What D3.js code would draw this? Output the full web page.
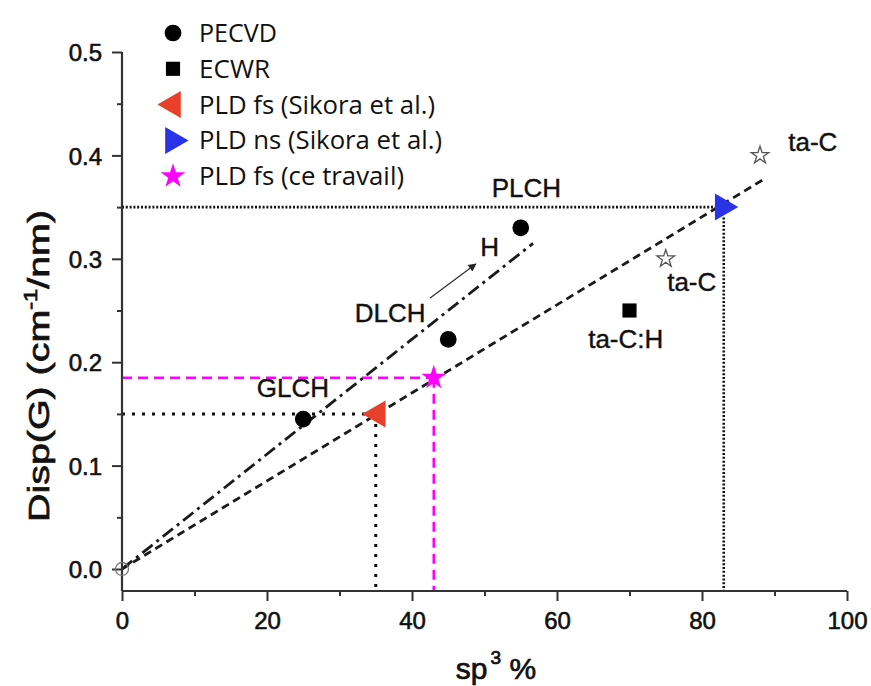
<!DOCTYPE html>
<html>
<head>
<meta charset="utf-8">
<script src="https://cdn.jsdelivr.net/npm/d3@7"></script>
<style>
  html, body { margin: 0; padding: 0; background: #fff; }
  svg { display: block; }
</style>
</head>
<body>
<svg id="chart" width="871" height="686"></svg>
<script>
// ---------- data ----------
const xTicks = [0, 20, 40, 60, 80, 100];
const yTicks = [0.0, 0.1, 0.2, 0.3, 0.4, 0.5];
const xMinorTicks = [10, 30, 50, 70, 90];
const yMinorTicks = [0.05, 0.15, 0.25, 0.35, 0.45];

const pecvdX = [25, 45, 55];
const pecvdY = [0.145, 0.222, 0.330];
const ecwrX = [70];
const ecwrY = [0.25];
const pldFsSikoraX = [35];
const pldFsSikoraY = [0.15];
const pldNsSikoraX = [83];
const pldNsSikoraY = [0.35];
const pldFsThisX = [43];
const pldFsThisY = [0.185];
const taCX = [75, 88];
const taCY = [0.30, 0.40];
const originX = [0];
const originY = [0];

const fitDashedX = [0, 88.3];
const fitDashedY = [0, 0.376];
const fitDashDotX = [0, 56.7];
const fitDashDotY = [0, 0.315];
const arrowX = [42.5, 48.8];
const arrowY = [0.262, 0.295];

const legendLabels = ["PECVD", "ECWR", "PLD fs (Sikora et al.)", "PLD ns (Sikora et al.)", "PLD fs (ce travail)"];
const legendWidths = [78, 71, 236, 243, 205];
const annotTexts = ["PLCH", "DLCH", "H", "GLCH", "ta-C:H", "ta-C", "ta-C"];
const annotX = [51.0, 32.1, 49.4, 18.6, 64.3, 75.2, 91.9];
const annotY = [0.360, 0.239, 0.303, 0.166, 0.214, 0.269, 0.404];

// ---------- layout ----------
const svg = d3.select("#chart");
const x = d3.scaleLinear().domain([0, 100]).range([122, 847]);
const y = d3.scaleLinear().domain([0, 0.5]).range([569, 52]);
const yBottom = -0.0213;
const axisY = y(yBottom);

const FONT = "'Liberation Sans', Arial, sans-serif";
const LFONT = "'Open Sans', 'Noto Sans', sans-serif";
const RED = "#e8402b", BLUE = "#2b33e6", MAG = "#ff00ff";
const TXT = "#111";

// ---------- guide lines ----------
const g = svg.append("g");
function seg(x1, y1, x2, y2, color, w, dash) {
  g.append("line")
    .attr("x1", x(x1)).attr("y1", y(y1)).attr("x2", x(x2)).attr("y2", y(y2))
    .attr("stroke", color).attr("stroke-width", w)
    .attr("stroke-dasharray", dash);
}
// dense dotted lines at PLD ns point
seg(0, pldNsSikoraY[0], pldNsSikoraX[0] - 1, pldNsSikoraY[0], "#111", 2.6, "2,1.8");
seg(pldNsSikoraX[0], pldNsSikoraY[0] - 0.01, pldNsSikoraX[0], yBottom, "#111", 2.6, "2,1.8");
// sparse dotted lines at PLD fs Sikora point
seg(0, pldFsSikoraY[0], pldFsSikoraX[0], pldFsSikoraY[0], "#111", 3, "3,7");
seg(pldFsSikoraX[0], pldFsSikoraY[0], pldFsSikoraX[0], yBottom, "#111", 3, "3,7");
// magenta dashed at this work
seg(0, pldFsThisY[0], pldFsThisX[0], pldFsThisY[0], MAG, 2.5, "10,6");
seg(pldFsThisX[0], pldFsThisY[0], pldFsThisX[0], yBottom, MAG, 2.5, "10,6");
// fit lines
seg(fitDashedX[0], fitDashedY[0], fitDashedX[1], fitDashedY[1], "#1a1a1a", 2.8, "8,5");
seg(fitDashDotX[0], fitDashDotY[0], fitDashDotX[1], fitDashDotY[1], "#1a1a1a", 2.8, "13,5,3,5");

// arrow
svg.append("defs").append("marker")
  .attr("id", "arr").attr("viewBox", "0 0 10 10").attr("refX", 9).attr("refY", 5)
  .attr("markerWidth", 10).attr("markerHeight", 8).attr("markerUnits", "userSpaceOnUse")
  .attr("orient", "auto")
  .append("path").attr("d", "M0,0 L10,5 L0,10 z").attr("fill", "#222");
g.append("line")
  .attr("x1", x(arrowX[0])).attr("y1", y(arrowY[0]))
  .attr("x2", x(arrowX[1])).attr("y2", y(arrowY[1]))
  .attr("stroke", "#333").attr("stroke-width", 1.3)
  .attr("marker-end", "url(#arr)");

// ---------- axes ----------
const ax = svg.append("g");
ax.append("line").attr("x1", x(0)).attr("x2", x(100)).attr("y1", axisY).attr("y2", axisY)
  .attr("stroke", "#333").attr("stroke-width", 2.2);
ax.append("line").attr("x1", x(0)).attr("x2", x(0)).attr("y1", axisY).attr("y2", y(0.5))
  .attr("stroke", "#333").attr("stroke-width", 2.2);

const xAxis = d3.axisBottom(x).tickValues(xTicks).tickSize(10).tickFormat(d3.format("d"));
const xg = svg.append("g").attr("transform", `translate(0,${axisY})`).call(xAxis);
xg.select(".domain").remove();
xg.selectAll(".tick line").attr("stroke", "#333").attr("stroke-width", 2);
xg.selectAll(".tick text").attr("font-family", FONT).attr("font-size", 24)
  .attr("fill", TXT).attr("stroke", TXT).attr("stroke-width", 0.6)
  .attr("dy", null).attr("y", 38);

const xMinor = svg.append("g").attr("transform", `translate(0,${axisY})`)
  .call(d3.axisBottom(x).tickValues(xMinorTicks).tickSize(5).tickFormat(""));
xMinor.select(".domain").remove();
xMinor.selectAll(".tick line").attr("stroke", "#333").attr("stroke-width", 2);

const yAxis = d3.axisLeft(y).tickValues(yTicks).tickSize(10).tickFormat(d3.format(".1f"));
const yg = svg.append("g").attr("transform", `translate(${x(0)},0)`).call(yAxis);
yg.select(".domain").remove();
yg.selectAll(".tick line").attr("stroke", "#333").attr("stroke-width", 2);
yg.selectAll(".tick text").attr("font-family", FONT).attr("font-size", 24)
  .attr("fill", TXT).attr("stroke", TXT).attr("stroke-width", 0.6)
  .attr("x", -20).attr("dy", "0.36em");

const yMinor = svg.append("g").attr("transform", `translate(${x(0)},0)`)
  .call(d3.axisLeft(y).tickValues(yMinorTicks).tickSize(5).tickFormat(""));
yMinor.select(".domain").remove();
yMinor.selectAll(".tick line").attr("stroke", "#333").attr("stroke-width", 2);

// axis titles
const yt = svg.append("text")
  .attr("transform", "translate(49,366) rotate(-90)")
  .attr("text-anchor", "middle").attr("font-family", FONT).attr("font-size", 30)
  .attr("fill", TXT).attr("stroke", TXT).attr("stroke-width", 0.7)
  .attr("textLength", 312).attr("lengthAdjust", "spacingAndGlyphs");
yt.append("tspan").text("Disp(G) (cm");
yt.append("tspan").attr("font-size", 18).attr("dy", -12).text("-1");
yt.append("tspan").attr("dy", 12).text("/nm)");

const xt = svg.append("text")
  .attr("x", 496).attr("y", 679).attr("text-anchor", "middle")
  .attr("font-family", FONT).attr("font-size", 30)
  .attr("fill", TXT).attr("stroke", TXT).attr("stroke-width", 0.7);
xt.append("tspan").text("sp");
xt.append("tspan").attr("font-size", 19).attr("dx", 3).attr("dy", -15).text("3");
xt.append("tspan").attr("dy", 15).text(" %");

// ---------- markers ----------
const sym = (type, size) => d3.symbol().type(type).size(size)();
const triPath = sym(d3.symbolTriangle, 315);
const mk = svg.append("g");
function pts(xs, ys) { return xs.map((v, i) => [v, ys[i]]); }

mk.selectAll(".orig").data(pts(originX, originY)).join("circle")
  .attr("cx", d => x(d[0])).attr("cy", d => y(d[1])).attr("r", 6.5)
  .attr("fill", "none").attr("stroke", "#777").attr("stroke-width", 1.3);

mk.selectAll(".pecvd").data(pts(pecvdX, pecvdY)).join("path")
  .attr("d", sym(d3.symbolCircle, 220))
  .attr("transform", d => `translate(${x(d[0])},${y(d[1])})`).attr("fill", "#000");

mk.selectAll(".ecwr").data(pts(ecwrX, ecwrY)).join("path")
  .attr("d", sym(d3.symbolSquare, 200))
  .attr("transform", d => `translate(${x(d[0])},${y(d[1])})`).attr("fill", "#000");

mk.selectAll(".tac").data(pts(taCX, taCY)).join("path")
  .attr("d", sym(d3.symbolStar, 95))
  .attr("transform", d => `translate(${x(d[0])},${y(d[1])})`)
  .attr("fill", "#fff").attr("stroke", "#555").attr("stroke-width", 1.3);

mk.selectAll(".pfs").data(pts(pldFsSikoraX, pldFsSikoraY)).join("path")
  .attr("d", triPath)
  .attr("transform", d => `translate(${x(d[0]) + 2},${y(d[1])}) rotate(-90)`).attr("fill", RED);

mk.selectAll(".pns").data(pts(pldNsSikoraX, pldNsSikoraY)).join("path")
  .attr("d", triPath)
  .attr("transform", d => `translate(${x(d[0]) - 1},${y(d[1])}) rotate(90)`).attr("fill", BLUE);

mk.selectAll(".pthis").data(pts(pldFsThisX, pldFsThisY)).join("path")
  .attr("d", sym(d3.symbolStar, 190))
  .attr("transform", d => `translate(${x(d[0])},${y(d[1])})`).attr("fill", MAG);

// ---------- annotations ----------
svg.append("g").selectAll("text").data(annotTexts).join("text")
  .attr("x", (d, i) => x(annotX[i])).attr("y", (d, i) => y(annotY[i]))
  .attr("font-family", FONT).attr("font-size", 26)
  .attr("fill", TXT).attr("stroke", TXT).attr("stroke-width", 0.4)
  .text(d => d);

// ---------- legend ----------
const legendShapes = [
  { d: sym(d3.symbolCircle, 220), fill: "#000", rot: 0 },
  { d: sym(d3.symbolSquare, 200), fill: "#000", rot: 0 },
  { d: triPath, fill: RED, rot: -90 },
  { d: triPath, fill: BLUE, rot: 90 },
  { d: sym(d3.symbolStar, 190), fill: MAG, rot: 0 }
];
const lg = svg.append("g");
const rows = lg.selectAll("g").data(legendLabels).join("g")
  .attr("transform", (d, i) => `translate(0,${42 + i * 35.8})`);
rows.append("path")
  .attr("d", (d, i) => legendShapes[i].d)
  .attr("fill", (d, i) => legendShapes[i].fill)
  .attr("transform", (d, i) => `translate(173,-9) rotate(${legendShapes[i].rot})`);
rows.append("text").attr("x", 199).attr("y", 0)
  .attr("font-family", LFONT).attr("font-size", 25).attr("fill", TXT)
  .attr("textLength", (d, i) => legendWidths[i]).attr("lengthAdjust", "spacingAndGlyphs")
  .text(d => d);
</script>
</body>
</html>
